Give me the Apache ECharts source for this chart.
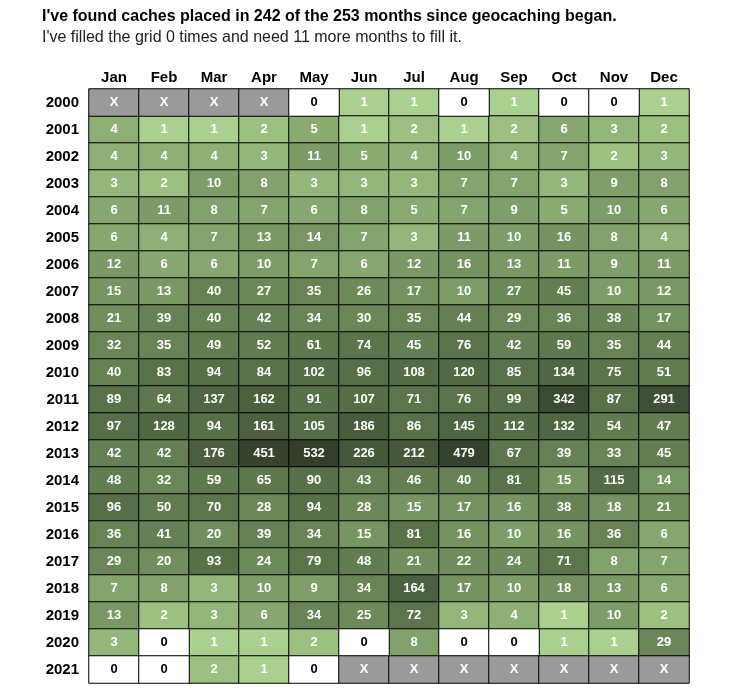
<!DOCTYPE html>
<html>
<head>
<meta charset="utf-8">
<script src="https://cdn.jsdelivr.net/npm/echarts@6/dist/echarts.min.js"></script>
<style>
html,body{margin:0;padding:0;background:#fff;}
#c{width:750px;height:693px;}
</style>
</head>
<body>
<div id="c"></div>
<script>
var months = ['Jan','Feb','Mar','Apr','May','Jun','Jul','Aug','Sep','Oct','Nov','Dec'];
var years = ['2000','2001','2002','2003','2004','2005','2006','2007','2008','2009','2010','2011','2012','2013','2014','2015','2016','2017','2018','2019','2020','2021'];
// null = 'X' (month before geocaching began / in the future)
var counts = [
  [null,null,null,null,0,1,1,0,1,0,0,1],
  [4,1,1,2,5,1,2,1,2,6,3,2],
  [4,4,4,3,11,5,4,10,4,7,2,3],
  [3,2,10,8,3,3,3,7,7,3,9,8],
  [6,11,8,7,6,8,5,7,9,5,10,6],
  [6,4,7,13,14,7,3,11,10,16,8,4],
  [12,6,6,10,7,6,12,16,13,11,9,11],
  [15,13,40,27,35,26,17,10,27,45,10,12],
  [21,39,40,42,34,30,35,44,29,36,38,17],
  [32,35,49,52,61,74,45,76,42,59,35,44],
  [40,83,94,84,102,96,108,120,85,134,75,51],
  [89,64,137,162,91,107,71,76,99,342,87,291],
  [97,128,94,161,105,186,86,145,112,132,54,47],
  [42,42,176,451,532,226,212,479,67,39,33,45],
  [48,32,59,65,90,43,46,40,81,15,115,14],
  [96,50,70,28,94,28,15,17,16,38,18,21],
  [36,41,20,39,34,15,81,16,10,16,36,6],
  [29,20,93,24,79,48,21,22,24,71,8,7],
  [7,8,3,10,9,34,164,17,10,18,13,6],
  [13,2,3,6,34,25,72,3,4,1,10,2],
  [3,0,1,1,2,0,8,0,0,1,1,29],
  [0,0,2,1,0,null,null,null,null,null,null,null]
];
var titleText = "I've found caches placed in 242 of the 253 months since geocaching began.";
var subText = "I've filled the grid 0 times and need 11 more months to fill it.";

var posData = [], otherData = [];
counts.forEach(function(row, r){
  row.forEach(function(v, c){
    if (v === null) {
      otherData.push({value:[c, r, -1], itemStyle:{color:'#9a9a9a'}, label:{color:'#fff'}});
    } else if (v === 0) {
      otherData.push({value:[c, r, 0], itemStyle:{color:'#ffffff'}, label:{color:'#000'}});
    } else {
      posData.push([c, r, v, Math.log(v)]);
    }
  });
});

var font = 'Liberation Sans, Arial, sans-serif';
var chart = echarts.init(document.getElementById('c'));
chart.setOption({
  animation:false,
  title:{
    text:titleText, subtext:subText, left:37, top:4, itemGap:5,
    textStyle:{fontFamily:font, fontSize:16, fontWeight:'bold', color:'#000'},
    subtextStyle:{fontFamily:font, fontSize:16, color:'#222'}
  },
  grid:{left:89, top:89, width:600, height:594},
  xAxis:{
    type:'category', data:months, position:'top',
    axisLine:{show:false}, axisTick:{show:false}, splitLine:{show:false},
    axisLabel:{fontFamily:font, fontSize:15, fontWeight:'bold', color:'#000', margin:4}
  },
  yAxis:{
    type:'category', data:years, inverse:true,
    axisLine:{show:false}, axisTick:{show:false}, splitLine:{show:false},
    axisLabel:{fontFamily:font, fontSize:15, fontWeight:'bold', color:'#000', margin:10}
  },
  visualMap:{
    show:false, type:'continuous', seriesIndex:0, dimension:3,
    min:0, max:Math.log(532),
    inRange:{color:['#a9d08e','#8aac73','#6f8c5c','#556c46','#323f2a']}
  },
  series:[
    {
      type:'heatmap', data:posData,
      itemStyle:{borderColor:'#000', borderWidth:1},
      label:{show:true, formatter:function(p){return p.value[2];}, color:'#fff',
             fontFamily:font, fontSize:13, fontWeight:'bold'},
      emphasis:{disabled:true}
    },
    {
      type:'heatmap', data:otherData,
      itemStyle:{borderColor:'#000', borderWidth:1},
      label:{show:true, formatter:function(p){return p.value[2] < 0 ? 'X' : String(p.value[2]);},
             fontFamily:font, fontSize:13, fontWeight:'bold'},
      emphasis:{disabled:true}
    }
  ]
});
</script>
</body>
</html>
